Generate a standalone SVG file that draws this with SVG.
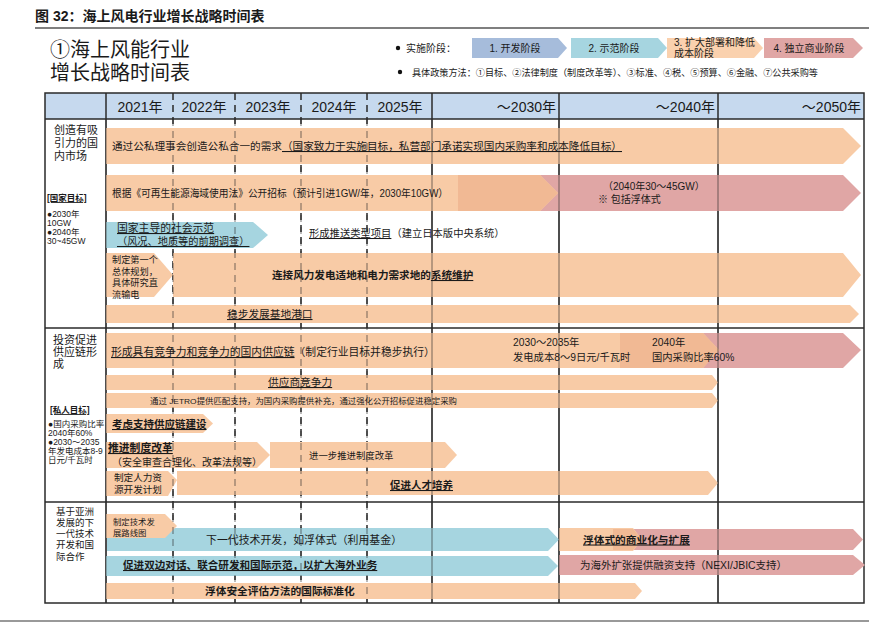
<svg xmlns="http://www.w3.org/2000/svg" width="869" height="623" viewBox="0 0 869 623">
<style>
text{font-family:"Liberation Sans","Noto Sans CJK SC",sans-serif;fill:#1a1a1a}
.b{font-weight:bold}
.u{text-decoration:underline}
.pe{fill:#f8cba6}
.pk{fill:#e0a6a5}
.ov{fill:#f1b994}
.bl{fill:#a6d5e0}
.g{stroke:#2a2a2a;stroke-width:1.5;fill:none}
.gd{stroke:#2a2a2a;stroke-width:1.5;stroke-dasharray:7 5;fill:none}
.ovl{opacity:0.42}
</style>
<rect width="869" height="623" fill="#fff"/>
<!-- titles -->
<text x="35" y="21" font-size="14" class="b">图 32：海上风电行业增长战略时间表</text>
<line x1="35" y1="28" x2="869" y2="28" stroke="#555" stroke-width="1.5"/>
<text x="50" y="57" font-size="20">①海上风能行业</text>
<text x="50" y="80" font-size="20">增长战略时间表</text>
<!-- legend -->
<g id="legend">
<circle cx="398" cy="48" r="2.2" fill="#111"/>
<text x="406" y="52" font-size="10">实施阶段：</text>
<g id="stage1"><polygon points="472,38 558,38 567,48 558,58 472,58" fill="#a6bcdb"/><text x="515" y="52" font-size="10" text-anchor="middle">1. 开发阶段</text></g>
<g id="stage2"><polygon points="571,38 658,38 667,48 658,58 571,58" class="bl"/><text x="614" y="52" font-size="10" text-anchor="middle">2. 示范阶段</text></g>
<g id="stage3"><polygon points="667,38 754,38 763,48 754,58 667,58" fill="#fad1ae"/><text x="674" y="46" font-size="10">3. 扩大部署和降低</text><text x="674" y="57" font-size="10">成本阶段</text></g>
<g id="stage4"><polygon points="764,38 853,38 863,48 853,58 764,58" class="pk"/><text x="809" y="52" font-size="10" text-anchor="middle">4. 独立商业阶段</text></g>
<circle cx="400" cy="72" r="2.2" fill="#111"/>
<text x="412" y="75.5" font-size="9.5" textLength="406" lengthAdjust="spacingAndGlyphs">具体政策方法：①目标、②法律制度（制度改革等）、③标准、④税、⑤预算、⑥金融、⑦公共采购等</text>
</g>
<!-- grid base -->
<g id="grid">
<rect x="45" y="93" width="819" height="26" fill="#c6d9ee"/>
<rect x="45" y="93" width="819" height="510" class="g"/>
<line x1="45" y1="119" x2="864" y2="119" class="g"/>
<line x1="45" y1="328" x2="864" y2="328" class="g"/>
<line x1="45" y1="502" x2="864" y2="502" class="g"/>
<line x1="106" y1="93" x2="106" y2="603" class="g"/>
<line x1="432" y1="93" x2="432" y2="603" class="g"/>
<line x1="559" y1="93" x2="559" y2="603" class="g"/>
<line x1="718" y1="93" x2="718" y2="603" class="g"/>
<line x1="173" y1="93" x2="173" y2="603" class="gd"/>
<line x1="235" y1="93" x2="235" y2="603" class="gd"/>
<line x1="301" y1="93" x2="301" y2="603" class="gd"/>
<line x1="367" y1="93" x2="367" y2="603" class="gd"/>
</g>
<g id="header" font-size="14">
<text x="140" y="112" font-size="14" text-anchor="middle">2021年</text>
<text x="204" y="112" font-size="14" text-anchor="middle">2022年</text>
<text x="268" y="112" font-size="14" text-anchor="middle">2023年</text>
<text x="334" y="112" font-size="14" text-anchor="middle">2024年</text>
<text x="400" y="112" font-size="14" text-anchor="middle">2025年</text>
<text x="556" y="112" font-size="14" text-anchor="end">～2030年</text>
<text x="715" y="112" font-size="14" text-anchor="end">～2040年</text>
<text x="861" y="112" font-size="14" text-anchor="end">～2050年</text>
</g>
<!-- row labels -->
<g id="label1" font-size="11">
<text x="54" y="134" font-size="11">创造有吸</text>
<text x="54" y="147" font-size="11">引力的国</text>
<text x="54" y="160" font-size="11">内市场</text>
<text x="47" y="201" font-size="8.5" class="b u">[国家目标]</text>
<text x="47" y="217" font-size="8.5">●2030年</text>
<text x="47" y="225.5" font-size="8.5">10GW</text>
<text x="47" y="235" font-size="8.5">●2040年</text>
<text x="47" y="243.5" font-size="8.5">30~45GW</text>
</g>
<g id="label2">
<text x="53" y="344" font-size="11">投资促进</text>
<text x="53" y="356" font-size="11">供应链形</text>
<text x="53" y="368" font-size="11">成</text>
<text x="50" y="413" font-size="8.5" class="b u">[私人目标]</text>
<text x="48" y="427" font-size="8.5">●国内采购比率</text>
<text x="48" y="435.5" font-size="8.5">2040年60%</text>
<text x="48" y="444.5" font-size="8.5">●2030～2035</text>
<text x="48" y="453.5" font-size="8.5">年发电成本8-9</text>
<text x="48" y="463" font-size="8.5">日元/千瓦时</text>
</g>
<g id="label3" font-size="9.5">
<text x="56" y="515" font-size="9.5">基于亚洲</text>
<text x="56" y="526" font-size="9.5">发展的下</text>
<text x="56" y="537" font-size="9.5">一代技术</text>
<text x="56" y="548" font-size="9.5">开发和国</text>
<text x="56" y="560" font-size="9.5">际合作</text>
</g>
<!-- bars section 1 -->
<g id="bar-public-private"><polygon points="106,128 843,128 861,146 843,164 106,164" class="pe"/></g>
<g id="bar-tender">
<polygon points="458,175 843,175 861,193 843,211 458,211" class="pk"/>
<polygon points="106,175 540,175 558,193 540,211 106,211" class="pe"/>
<polygon points="458,175 540,175 558,193 540,211 458,211" class="ov"/>
</g>
<g id="bar-demo"><polygon points="106,222 253,222 268,235 253,248 106,248" class="bl"/></g>
<g id="bar-plan"><polygon points="106,253 154,253 173,275 154,297 106,297" class="pe"/></g>
<g id="bar-grid"><polygon points="173,253 843,253 861,275 843,297 173,297" class="pe"/></g>
<g id="bar-port"><polygon points="106,305 850,305 859,314 850,323 106,323" class="pe"/></g>
<!-- bars section 2 -->
<g id="bar-supply">
<polygon points="620,333 843,333 861,350 843,368 620,368" class="pk"/>
<polygon points="106,333 703,333 719,350 703,368 106,368" class="pe"/>
<polygon points="620,333 703,333 719,350 703,368 620,368" class="ov"/>
</g>
<g id="bar-competitive"><polygon points="106,375 712,375 718,382.5 712,390 106,390" class="pe"/></g>
<g id="bar-jetro"><polygon points="106,393 712,393 718,400.5 712,408 106,408" class="pe"/></g>
<g id="bar-chain"><polygon points="106,414 203,414 213,423.5 203,433 106,433" class="pe"/></g>
<g id="bar-reform"><polygon points="106,442 257,442 270,455 257,468 106,468" class="pe"/></g>
<g id="bar-reform2"><polygon points="270,442 445,442 457,455 445,468 270,468" class="pe"/></g>
<g id="bar-talent"><polygon points="177,471 708,471 718,483 708,495 177,495" class="pe"/></g>
<g id="bar-hr"><polygon points="106,471 168,471 177,480 168,496 106,496" class="pe"/></g>
<!-- bars section 3 -->
<g id="bar-nextgen"><polygon points="107,528 548,528 559,539.5 548,551 107,551" class="bl"/></g>
<g id="bar-roadmap"><polygon points="106,514 165,514 177,526 165,538 106,538" class="pe"/></g>
<g id="bar-dialog"><polygon points="106,556 548,556 558,566 548,576 106,576" class="bl"/></g>
<g id="bar-standard"><polygon points="106,583 635,583 642,591 635,599 106,599" class="pe"/></g>
<g id="bar-floating">
<polygon points="613,529 853,529 863,539.5 853,550 613,550" class="pk"/>
<polygon points="559,528 633,528 642,539.5 633,551 559,551" class="pe"/>
<polygon points="613,529 633,529 642,539.5 633,550 613,550" class="ov"/>
</g>
<g id="bar-finance"><polygon points="559,555 853,555 865,565 853,575 559,575" class="pk"/></g>
<!-- grid overlay showing through bars -->
<g id="grid-overlay" class="ovl">
<line x1="106" y1="119" x2="106" y2="603" class="g"/>
<line x1="432" y1="119" x2="432" y2="603" class="g"/>
<line x1="559" y1="119" x2="559" y2="603" class="g"/>
<line x1="718" y1="119" x2="718" y2="603" class="g"/>
<line x1="173" y1="119" x2="173" y2="603" class="gd"/>
<line x1="235" y1="119" x2="235" y2="603" class="gd"/>
<line x1="301" y1="119" x2="301" y2="603" class="gd"/>
<line x1="367" y1="119" x2="367" y2="603" class="gd"/>
</g>
<!-- bar texts -->
<g id="texts">
<text x="112" y="150" font-size="10.6" textLength="510" lengthAdjust="spacingAndGlyphs">通过公私理事会创造公私合一的需求<tspan class="u">（国家致力于实施目标，私营部门承诺实现国内采购率和成本降低目标）</tspan></text>
<text x="112" y="197" font-size="10.5" textLength="336" lengthAdjust="spacingAndGlyphs">根据《可再生能源海域使用法》公开招标（预计引进1GW/年，2030年10GW）</text>
<text x="603" y="190" font-size="10">（2040年30～45GW）</text>
<text x="598" y="203" font-size="10">※ 包括浮体式</text>
<text x="117" y="232" font-size="10.8" class="u">国家主导的社会示范</text>
<text x="117" y="245" font-size="10.2" class="u">（风况、地质等的前期调查）</text>
<text x="309" y="237" font-size="10.3"><tspan class="u">形成推送类型项目</tspan>（建立日本版中央系统）</text>
<text x="112" y="263" font-size="9.2">制定第一个</text>
<text x="112" y="275" font-size="9.2">总体规划，</text>
<text x="112" y="286" font-size="9.2">具体研究直</text>
<text x="112" y="298" font-size="9.2">流输电</text>
<text x="272" y="279" font-size="10.6" class="b">连接风力发电适地和电力需求地的<tspan class="u">系统维护</tspan></text>
<text x="227" y="318" font-size="10.7" class="u">稳步发展基地港口</text>
<text x="111" y="356" font-size="10.8"><tspan class="u">形成具有竞争力和竞争力的国内供应链</tspan>（制定行业目标并稳步执行）</text>
<text x="513" y="346" font-size="10.3">2030～2035年</text>
<text x="513" y="361" font-size="10.3">发电成本8～9日元/千瓦时</text>
<text x="652" y="346" font-size="10.3">2040年</text>
<text x="652" y="361" font-size="10.3">国内采购比率60%</text>
<text x="268" y="386" font-size="10.7" class="u">供应商竞争力</text>
<text x="150" y="403.5" font-size="7.6" textLength="307" lengthAdjust="spacingAndGlyphs">通过 JETRO提供匹配支持，为国内采购提供补充，通过强化公开招标促进稳定采购</text>
<text x="112" y="428" font-size="10.5" class="b u">考虑支持供应链建设</text>
<text x="108" y="452" font-size="10.8" class="b u">推进制度改革</text>
<text x="112" y="466" font-size="10">（安全审查合理化、改革法规等）</text>
<text x="309" y="458.5" font-size="9.4">进一步推进制度改革</text>
<text x="114" y="481" font-size="9.6">制定人力资</text>
<text x="114" y="492.5" font-size="9.6">源开发计划</text>
<text x="390" y="489" font-size="10.5" class="b u">促进人才培养</text>
<text x="113" y="525" font-size="8.4">制定技术发</text>
<text x="113" y="536" font-size="8.4">展路线图</text>
<text x="206" y="543.5" font-size="10.9">下一代技术开发，如浮体式（利用基金）</text>
<text x="123" y="569" font-size="10.6" class="b u">促进双边对话、联合研发和国际示范，以扩大海外业务</text>
<text x="205" y="595" font-size="10.7" class="b">浮体安全评估方法的国际标准化</text>
<text x="583" y="543.5" font-size="10.7" class="b u">浮体式的商业化与扩展</text>
<text x="580" y="569" font-size="10.3" textLength="207" lengthAdjust="spacingAndGlyphs">为海外扩张提供融资支持（NEXI/JBIC支持）</text>
</g>
<line x1="0" y1="621" x2="869" y2="621" stroke="#999" stroke-width="2"/>
</svg>
